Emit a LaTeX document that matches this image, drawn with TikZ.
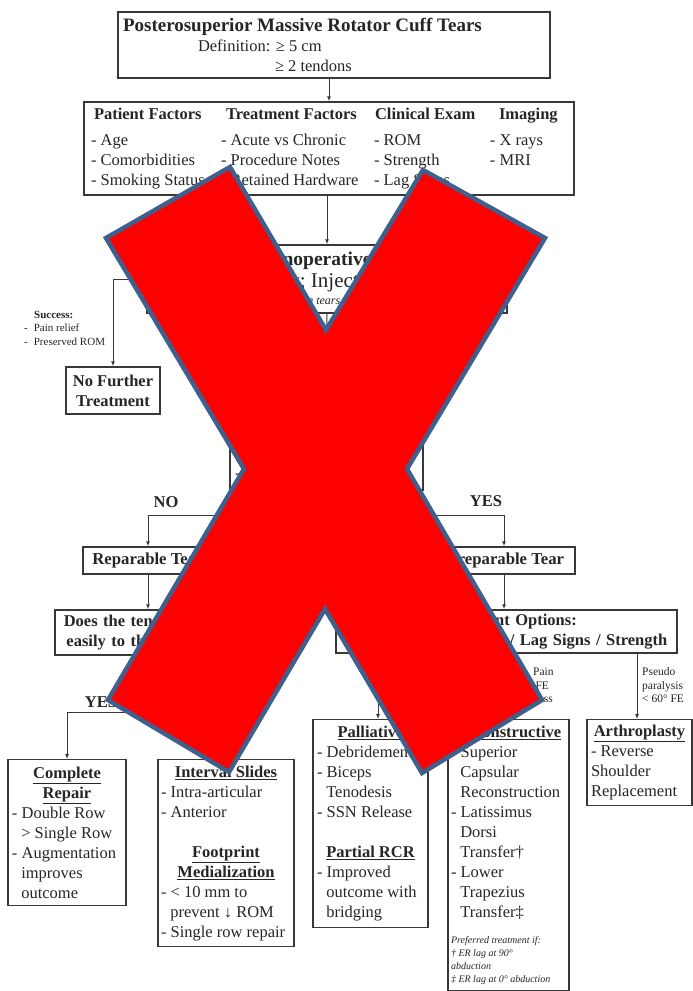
\documentclass[tikz,border=0pt]{standalone}
\usepackage{fontspec}
\setmainfont{Liberation Serif}
\usetikzlibrary{arrows.meta}
\definecolor{cinzaTexto}{HTML}{262626}
\definecolor{cinzaLinha}{HTML}{383838}
\definecolor{vermelhoX}{HTML}{FF0000}
\definecolor{azulX}{HTML}{3F5F8C}
\newcommand{\cabecalho}[1]{\makebox[\hsize][c]{\textbf{\underline{#1}}}}
\newcommand{\pequeno}{\fontsize{10}{12.8}\selectfont\itshape}

\begin{document}
\begin{tikzpicture}[x=1pt,y=-1pt]
\tikzstyle{caixa}=[draw=cinzaLinha, line width=1.4pt, fill=white, text=cinzaTexto, inner xsep=5pt, inner ysep=0pt, font=\fontsize{16.5}{20}\selectfont]
\tikzstyle{seta}=[draw=cinzaLinha, line width=1pt, -{Latex[length=5pt,width=4pt]}]
\tikzstyle{linha}=[draw=cinzaLinha, line width=1pt]
\tikzstyle{rotulo}=[text=cinzaTexto, inner sep=0pt, align=left, font=\fontsize{11.5}{13.5}\selectfont]
\tikzstyle{escolha}=[text=cinzaTexto, inner sep=0pt, font=\bfseries\fontsize{16.5}{20}\selectfont]
\useasboundingbox[fill=white] (0,0) rectangle (693,991);

% caixas de cima
\node[caixa, text width=422, minimum height=66, align=flush left] (topo) at (334,45)
  {{\fontsize{19}{22}\selectfont\bfseries Posterosuperior Massive Rotator Cuff Tears}\\
   \hspace*{75pt}Definition: ≥ 5 cm\\
   \hspace*{152pt}≥ 2 tendons};
\node[caixa, minimum width=490, minimum height=93, inner xsep=7pt] (fatores) at (329,148.5)
  {\begin{tabular}{@{}p{130pt}@{}p{153pt}@{}p{116pt}@{}p{77pt}@{}}
   \hspace*{3pt}\textbf{Patient Factors} & \hspace*{5pt}\textbf{Treatment Factors} & \hspace*{1pt}\textbf{Clinical Exam} & \hspace*{9pt}\textbf{Imaging}\\[6pt]
   - Age & - Acute vs Chronic & - ROM & - X rays\\
   - Comorbidities & - Procedure Notes & - Strength & - MRI\\
   - Smoking Status & - Retained Hardware & - Lag Signs & \\
   \end{tabular}};
\node[caixa, text width=350, minimum height=68, align=flush left, font=\fontsize{21}{22}\selectfont] (naoop) at (327,279)
  {\hspace*{40pt}{\fontsize{19.5}{22}\selectfont\bfseries Trial of Nonoperative Management}\\
   \hspace*{1.5pt}Physical Therapy; Injections\\[-5pt]
   \hspace*{82pt}{\fontsize{12}{14}\selectfont\itshape (not indicated in tears with pseudoparalysis)}};
\node[caixa, minimum width=94, minimum height=47, align=center, font=\bfseries\fontsize{16.5}{20}\selectfont] (semtrat) at (113,390.5)
  {No Further\\ Treatment};
\node[caixa, text width=183, minimum height=95, align=flush left] (decisao) at (326.5,442.5)
  {\makebox[\hsize][c]{\textbf{Tear Irreparable?}}\\
   - Fatty infiltration\\
   - Tendon retraction\\
   - AHD < 7 mm};

% reparavel / irreparavel
\node[caixa, minimum width=130, minimum height=27, font=\bfseries\fontsize{16.7}{20}\selectfont] (reparavel) at (148,560.5) {Reparable Tear};
\node[caixa, minimum width=142, minimum height=27, font=\bfseries\fontsize{16.7}{20}\selectfont] (irreparavel) at (504,560.5) {Irreparable Tear};
\node[caixa, text width=176, minimum height=45, align=center, font=\bfseries\fontsize{16.5}{20}\selectfont] (tendao) at (148,632.5)
  {Does the tendon reduce\\ easily to the footprint?};
\node[caixa, text width=331, minimum height=43, align=center, font=\bfseries\fontsize{16.5}{20}\selectfont] (opcoes) at (506.5,631.5)
  {Treatment Options:\\ Based on ROM / Pain / Lag Signs / Strength};

% caixas de baixo
\node[caixa, anchor=north, inner xsep=4pt, text width=110, minimum height=146, align=flush left] (completo) at (67,759)
  {\cabecalho{Complete}\\ \cabecalho{Repair}\\ - Double Row\\ \hspace*{9.3pt}> Single Row\\
   - Augmentation\\ \hspace*{9.3pt}improves\\ \hspace*{9.3pt}outcome};
\node[caixa, anchor=north, inner xsep=3pt, text width=130, minimum height=187, align=flush left] (intervalo) at (226,759)
  {\cabecalho{Interval Slides}\\ - Intra-articular\\ - Anterior\\[20pt]
   \cabecalho{Footprint}\\ \cabecalho{Medialization}\\ - < 10 mm to\\ \hspace*{9.3pt}prevent ↓ ROM\\ - Single row repair};
\node[caixa, anchor=north, inner xsep=4pt, text width=107, minimum height=208, align=flush left] (paliativo) at (370.5,719)
  {\cabecalho{Palliative}\\ - Debridement\\ - Biceps\\ \hspace*{9.3pt}Tenodesis\\ - SSN Release\\[20pt]
   \cabecalho{Partial RCR}\\ - Improved\\ \hspace*{9.3pt}outcome with\\ \hspace*{9.3pt}bridging};
\node[caixa, anchor=north, inner xsep=3pt, text width=115, minimum height=271, align=flush left] (reconstr) at (508.5,719)
  {\cabecalho{Reconstructive}\\ - Superior\\ \hspace*{9.3pt}Capsular\\ \hspace*{9.3pt}Reconstruction\\
   - Latissimus\\ \hspace*{9.3pt}Dorsi\\ \hspace*{9.3pt}Transfer†\\ - Lower\\ \hspace*{9.3pt}Trapezius\\ \hspace*{9.3pt}Transfer‡\\[6pt]
   {\pequeno Preferred treatment if:}\\[-7.2pt]
   {\pequeno † ER lag at 90°}\\[-7.2pt]
   {\pequeno abduction}\\[-7.2pt]
   {\pequeno ‡ ER lag at 0° abduction}};
\node[caixa, anchor=north, inner xsep=4pt, text width=97, minimum height=86, align=flush left] (artro) at (639.5,719)
  {\cabecalho{Arthroplasty}\\ - Reverse\\ Shoulder\\ Replacement};

% setas
\draw[seta] (topo.south -| fatores.north) -- (fatores.north);
\draw[seta] (fatores.south -| naoop.north) -- (naoop.north);
\draw[seta] (naoop.west) -| (semtrat.north);
\draw[seta] (naoop.south) -- (decisao.north);
\coordinate (divA) at (326.5,515);
\draw[linha] (decisao.south) -- (divA);
\draw[seta] (divA) -| (reparavel.north);
\draw[seta] (divA) -| (irreparavel.north);
\draw[seta] (reparavel.south) -- (tendao.north);
\draw[seta] (irreparavel.south) -- (irreparavel.south |- opcoes.north);
\coordinate (divB) at (148,712);
\draw[linha] (tendao.south) -- (divB);
\draw[seta] (divB) -| (completo.north);
\draw[seta] (divB) -| (intervalo.north);
\coordinate (pPal) at ([xshift=7.5pt]paliativo.north);
\coordinate (pRec) at ([xshift=-4.5pt]reconstr.north);
\coordinate (pArt) at ([xshift=-2.5pt]artro.north);
\draw[seta] (pPal |- opcoes.south) -- (pPal);
\draw[seta] (pRec |- opcoes.south) -- (pRec);
\draw[seta] (pArt |- opcoes.south) -- (pArt);

% rotulos
\node[rotulo, anchor=west, font=\fontsize{11}{13.5}\selectfont] (rotSucesso) at (24,328)
  {\hspace*{10pt}\textbf{Success:}\\ -\hspace{6pt}Pain relief\\ -\hspace{6pt}Preserved ROM};
\node[escolha] (nao) at (166,502) {NO};
\node[escolha] (sim) at (486,501) {YES};
\node[escolha] (simB) at (101,702) {YES};
\node[escolha] (naoB) at (195,702) {NO};
\node[rotulo, anchor=west] (rotRecon) at (507,685.5) {\hspace*{26pt}Pain\\ > 60° FE\\ Weakness};
\node[rotulo, anchor=west] (rotArtro) at (642,685.5) {Pseudo\\ paralysis\\ < 60° FE};

% o X vermelho
\draw[fill=vermelhoX, draw=azulX, line width=4.5pt, line join=miter]
  (230,167) -- (326,330) -- (423,170) -- (545,238) -- (407,469) -- (542,700)
  -- (422,773) -- (325,609) -- (229,772) -- (108,700) -- (244,469) -- (106,238) -- cycle;
\end{tikzpicture}
\end{document}
